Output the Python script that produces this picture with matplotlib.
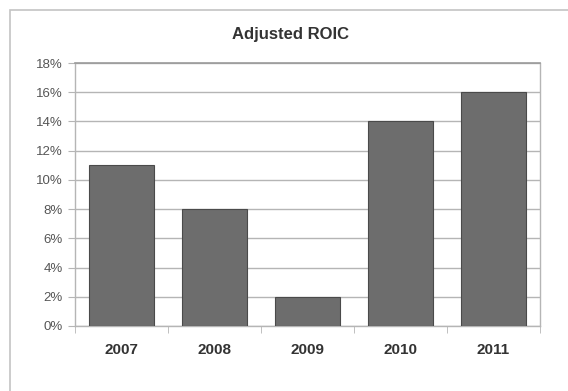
import matplotlib
matplotlib.use("Agg")
import matplotlib.pyplot as plt
from matplotlib.patches import Rectangle
from matplotlib.ticker import FixedLocator

years = ["2007", "2008", "2009", "2010", "2011"]
roic = [11, 8, 2, 14, 16]
y_ticks = [0, 2, 4, 6, 8, 10, 12, 14, 16, 18]

plt.rcParams["font.family"] = ["Liberation Sans", "DejaVu Sans"]

W, H = 568, 391
fig = plt.figure(figsize=(W / 100, H / 100), dpi=100)

# chart frame that runs off the right and bottom edges
fig.patches.append(Rectangle((10 / W, -0.05), 1.1, 1 - 10 / H + 0.05,
                             transform=fig.transFigure, fill=False,
                             edgecolor="#c4c4c4", linewidth=1.2))

ax = fig.add_axes([75 / W, 65 / H, 465 / W, 263 / H])
x = range(len(years))
ax.bar(x, roic, width=0.7, color="#6d6d6d", edgecolor="#4a4a4a",
       linewidth=0.8, zorder=3)

ax.set_xlim(-0.5, len(years) - 0.5)
ax.set_ylim(0, 18)
ax.set_yticks(y_ticks)
ax.set_yticklabels([f"{v}%" for v in y_ticks], fontsize=9.5, color="#555555")
ax.yaxis.grid(True, color="#b5b5b5", linewidth=1.0, zorder=0)

ax.set_xticks(list(x))
ax.set_xticklabels(years, fontsize=11, fontweight="bold", color="#333333")
ax.tick_params(axis="x", length=0, pad=12)
ax.xaxis.set_minor_locator(FixedLocator([i + 0.5 for i in range(-1, len(years))]))
ax.tick_params(axis="x", which="minor", length=5, color="#b5b5b5", direction="out")
ax.tick_params(axis="y", length=5, color="#b5b5b5", direction="out", pad=4)

for side in ["left", "right", "bottom"]:
    ax.spines[side].set_color("#b5b5b5")
    ax.spines[side].set_linewidth(1.0)
ax.spines["top"].set_color("#9a9a9a")
ax.spines["top"].set_linewidth(1.2)

fig.text(291 / W, 1 - 35 / H, "Adjusted ROIC", ha="center", va="center",
         fontsize=12, fontweight="bold", color="#333333")

fig.savefig("out.png", dpi=100)
